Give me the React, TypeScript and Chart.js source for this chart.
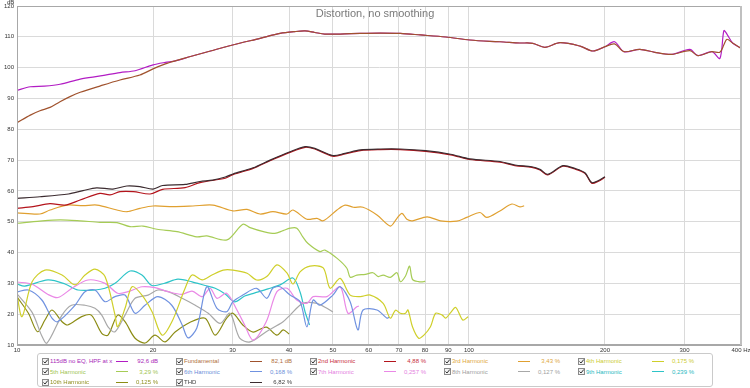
import React, { useEffect, useRef } from "react";
import { Chart, registerables } from "chart.js";

Chart.register(...registerables);

const TITLE = "Distortion, no smoothing";
const Y_UNIT = "dB";
const X_TICKS = [10, 20, 30, 40, 50, 60, 70, 80, 90, 100, 200, 300, 400];
const X_MIN = 10;
const X_MAX = 400;
const Y_MIN = 10;
const Y_MAX = 120;
const Y_STEP = 10;

// 115dB no EQ, HPF at x
const F_MEAS = [10, 10.7, 11.5, 12.45, 13.8, 15.3, 16.9, 18.25, 20, 21.3, 22.4, 24.2, 26.8, 30, 34.5, 38.2, 41.2, 43.4, 45.6, 48, 51.9, 57.5, 63.7, 70.5, 78.2, 88.8, 100.5, 111.3, 117.1, 129.7, 138.5, 147.3, 159, 176.1, 188.1, 200, 210, 220.3, 238.9, 257.9, 281.3, 308.3, 321.1, 344.9, 359.2, 366.6, 372.3, 383.8, 400];
const V_MEAS = [92.6, 93.8, 94.0, 94.6, 96.3, 97.3, 98.4, 99.0, 100.9, 101.7, 102.2, 103.6, 105.4, 107.35, 109.5, 111.1, 111.7, 111.9, 111.4, 110.9, 110.9, 111.1, 111.2, 111.1, 110.6, 109.95, 108.97, 108.5, 108.4, 108.0, 107.9, 106.6, 108.1, 107.0, 105.4, 106.8, 108.4, 105.2, 105.95, 104.97, 104.3, 105.9, 103.9, 105.2, 103.0, 112.0, 110.9, 107.9, 106.3];

// Fundamental
const F_FUND = [10, 10.7, 11.24, 11.83, 12.45, 13.1, 13.8, 15.3, 16.9, 18.7, 20, 21.3, 22.4, 24.2, 26.8, 30, 34.5, 38.2, 41.2, 43.4, 45.6, 48, 51.9, 57.5, 63.7, 70.5, 78.2, 88.8, 100.5, 111.3, 117.1, 129.7, 138.5, 147.3, 159, 176.1, 188.1, 200, 210, 220.3, 238.9, 257.9, 281.3, 308.3, 321.1, 344.9, 359.2, 366.6, 372.3, 383.8, 400];
const V_FUND = [82.1, 84.6, 86.0, 87.1, 88.95, 90.6, 92.0, 94.1, 96.0, 97.6, 99.6, 101.2, 102.2, 103.6, 105.4, 107.35, 109.5, 111.1, 111.7, 111.9, 111.4, 110.9, 110.9, 111.1, 111.2, 111.1, 110.6, 109.95, 108.97, 108.5, 108.4, 108.0, 107.9, 106.6, 108.1, 107.0, 105.4, 106.8, 107.7, 105.2, 105.95, 104.97, 104.3, 105.5, 103.9, 105.2, 104.98, 107.4, 109.2, 107.9, 106.3];

// THD
const F_THD = [10, 11.24, 13.0, 14.0, 15.0, 16.3, 17.5, 18.7, 20, 21.0, 23.55, 25.4, 27.1, 28.9, 30.05, 33.3, 36.3, 40.2, 43.4, 45.6, 50, 53.2, 57.5, 63.7, 70.5, 80.2, 91.1, 100.5, 117.1, 126.4, 137.8, 143.6, 149.5, 161.4, 171.6, 180.6, 187, 193.1, 200];
const V_THD = [57.6, 58.1, 59.0, 60.1, 61.0, 60.6, 61.6, 61.4, 60.6, 61.75, 62.1, 63.05, 63.5, 64.5, 65.5, 67.5, 70.0, 72.7, 74.35, 73.8, 71.45, 72.2, 73.3, 73.6, 73.6, 73.05, 71.9, 70.4, 69.55, 68.4, 67.85, 67.0, 65.4, 68.2, 67.3, 65.9, 62.7, 63.3, 64.6];

// 2nd harmonic
const F_H2 = [10, 10.85, 11.83, 12.77, 13.79, 15.26, 16.06, 16.9, 18.1, 19.7, 21.0, 23.55, 25.4, 28.9, 30.05, 33.3, 36.3, 40.2, 43.4, 45.6, 50, 53.2, 57.5, 63.7, 70.5, 80.2, 91.1, 100.5, 117.1, 126.4, 137.8, 143.6, 149.5, 161.4, 171.6, 180.6, 187, 193.1, 200];
const V_H2 = [54.35, 54.9, 55.9, 55.4, 57.05, 59.2, 58.7, 59.75, 59.75, 59.0, 60.5, 61.05, 62.7, 64.1, 65.3, 67.3, 69.8, 72.5, 74.15, 73.6, 71.25, 72.0, 73.1, 73.4, 73.4, 72.85, 71.7, 70.2, 69.35, 68.2, 67.65, 66.8, 65.2, 68.0, 67.1, 65.7, 62.5, 63.1, 64.4];

// 3rd harmonic
const F_H3 = [10, 11.24, 11.83, 12.9, 14.0, 15.03, 16.64, 17.51, 18.71, 20, 22.13, 24.5, 27.14, 30.05, 32.28, 34.5, 36.84, 39.56, 40.8, 43.81, 46.1, 47.6, 51.05, 53.2, 55.5, 58.3, 62.6, 67.0, 69.3, 71.1, 72.9, 75.0, 80.8, 86.5, 94.0, 98.9, 105.8, 109.5, 117.1, 124.5, 129.7, 132.5];
const V_H3 = [52.9, 52.5, 53.8, 55.4, 55.2, 55.4, 53.8, 53.25, 54.35, 55.1, 54.9, 55.1, 55.4, 53.5, 54.0, 52.5, 53.25, 52.5, 53.8, 50.8, 51.1, 50.3, 53.8, 55.4, 54.7, 54.7, 52.2, 48.6, 51.1, 52.7, 50.8, 50.3, 51.6, 50.3, 50.2, 51.4, 53.0, 51.4, 53.5, 55.75, 54.8, 55.2];

// 4th harmonic
const F_H4 = [10, 10.26, 10.8, 11.53, 12.58, 13.44, 14.14, 14.88, 15.66, 16.48, 16.7, 17.34, 17.97, 18.9, 19.9, 20.94, 22.03, 23.55, 24.4, 25.7, 27.0, 28.6, 30.05, 32.3, 33.9, 35.7, 37.6, 39.6, 40.8, 42.3, 44.5, 47.6, 49.3, 51.9, 54.6, 57.5, 60.5, 64.6, 67.0, 68.8, 70.5, 72.4, 73.3, 75.0, 77.4, 79.5, 82.2, 84.4, 87.3, 88.8, 91.1, 93.5, 96.9, 99.6];
const V_H4 = [26.2, 19.2, 30.5, 34.3, 32.7, 29.5, 32.7, 34.65, 32.2, 19.7, 15.9, 21.9, 28.9, 26.2, 20.8, 13.2, 17.6, 28.4, 32.7, 31.1, 32.7, 34.3, 34.3, 33.3, 31.1, 32.2, 36.0, 33.3, 29.8, 33.7, 35.6, 35.0, 28.4, 31.6, 26.2, 25.7, 26.2, 23.5, 18.7, 21.3, 20.3, 20.3, 21.4, 15.9, 12.2, 13.2, 15.9, 20.3, 19.7, 18.7, 20.5, 22.2, 18.1, 19.2];

// 5th harmonic
const F_H5 = [10, 11.24, 12.45, 13.79, 15.26, 16.65, 17.79, 19.0, 20.4, 22.6, 25.0, 26.3, 29.15, 31.6, 32.8, 35.1, 37.2, 38.8, 40.2, 41.6, 42.9, 44.0, 46.8, 48.0, 51.1, 53.7, 54.6, 56.5, 59.0, 61.3, 63.0, 64.6, 67.0, 69.3, 70.5, 72.4, 73.9, 75.0, 77.4, 79.5, 80];
const V_H5 = [49.5, 50.2, 50.6, 50.3, 49.8, 49.7, 48.4, 48.6, 47.55, 46.8, 45.1, 45.4, 44.1, 49.2, 48.1, 46.8, 46.2, 47.1, 47.9, 47.9, 45.1, 43.0, 40.3, 40.8, 38.1, 34.9, 32.0, 32.7, 32.9, 33.45, 32.2, 32.7, 31.95, 33.45, 30.55, 32.4, 35.6, 31.3, 30.55, 30.55, 30.8];

// 6th harmonic
const F_H6 = [10, 10.6, 11.35, 11.95, 12.3, 13.44, 14.14, 14.88, 15.66, 16.48, 17.34, 18.25, 19.2, 20.5, 22.0, 23.2, 23.9, 25.0, 26.3, 27.7, 29.1, 30.05, 31.6, 33.9, 35.7, 36.8, 38.2, 40.2, 42.3, 43.8, 45.2, 46.8, 50, 51.9, 54.6, 56.8, 58.3, 62.6, 65.9, 66.6];
const V_H6 = [27.2, 27.85, 24.6, 18.7, 17.55, 22.9, 27.3, 27.85, 24.05, 25.7, 26.2, 20.3, 22.9, 25.7, 22.9, 16.5, 12.3, 15.5, 28.9, 21.9, 20.8, 24.05, 26.2, 28.4, 25.15, 28.4, 28.9, 26.2, 24.05, 15.9, 24.6, 22.9, 26.2, 28.9, 24.05, 14.9, 21.35, 21.35, 18.7, 19.1];

// 7th harmonic
const F_H7 = [10, 10.8, 11.71, 12.32, 13.23, 14.36, 15.66, 16.7, 17.6, 18.9, 20.2, 21.6, 23.17, 24.4, 25.7, 26.76, 27.7, 29.1, 30.67, 31.9, 33.3, 35.6, 37.6, 39.6, 41.6, 43.8, 45.2, 48.5, 51.9, 54.0, 56.5, 57.1];
const V_H7 = [30.45, 29.7, 26.4, 25.4, 28.4, 31.1, 30.0, 26.8, 27.3, 28.9, 28.6, 27.3, 26.45, 27.5, 25.7, 28.4, 25.15, 26.8, 21.35, 16.5, 11.6, 17.55, 27.3, 28.4, 24.6, 23.5, 25.7, 25.7, 28.9, 20.3, 22.4, 22.65];

// 8th harmonic
const F_H8 = [10, 10.8, 11.35, 11.65, 12.58, 13.2, 14.14, 14.88, 15.4, 15.9, 16.48, 17.34, 18.25, 19.5, 20.5, 21.6, 23.2, 24.8, 26.5, 28.16, 29.6, 31.1, 32.8, 35.6, 38.8, 40.2, 42.9, 46.1, 48.5, 50];
const V_H8 = [26.6, 20.6, 12.9, 10.6, 19.7, 22.9, 22.9, 21.9, 19.7, 15.9, 14.3, 19.7, 25.15, 26.2, 27.85, 27.3, 25.15, 22.9, 20.3, 17.0, 20.3, 12.2, 11.0, 14.3, 17.55, 19.7, 23.5, 23.5, 21.9, 20.7];

// 9th harmonic
const F_H9 = [10, 10.4, 11.71, 12.77, 13.64, 14.88, 15.66, 16.48, 17.79, 18.9, 19.9, 21.27, 22.7, 24.4, 26.08, 27.45, 28.89, 30.3, 31.9, 33.6, 35.92, 38.2, 40.8, 42.3, 43.4, 44.4];
const V_H9 = [29.8, 29.1, 31.1, 29.8, 27.85, 27.85, 28.4, 30.0, 34.0, 32.7, 29.3, 30.1, 31.4, 30.5, 29.3, 28.4, 26.55, 24.0, 25.9, 26.9, 28.2, 29.5, 31.75, 27.2, 20.7, 16.5];

// 10th harmonic
const F_H10 = [10, 10.6, 11.1, 11.53, 11.95, 12.58, 12.95, 13.9, 14.6, 15.4, 15.9, 16.7, 17.34, 18.25, 19.2, 20.2, 21.27, 22.38, 24.16, 26.08, 27.45, 29.1, 30.05, 31.6, 33.3, 35.6, 37.6, 38.8, 40];
const V_H10 = [25.6, 20.3, 14.3, 18.1, 21.35, 17.55, 16.5, 19.2, 19.7, 13.8, 13.2, 19.7, 17.55, 12.2, 10.65, 13.2, 11.0, 14.2, 17.4, 18.7, 13.2, 18.7, 20.3, 16.5, 14.2, 15.8, 13.2, 14.9, 13.6];

// Legend texts (row-major, 5 columns)
const LEGEND_NAMES = ["115dB no EQ, HPF at x", "Fundamental", "2nd Harmonic", "3rd Harmonic", "4th Harmonic", "5th Harmonic", "6th Harmonic", "7th Harmonic", "8th Harmonic", "9th Harmonic", "10th Harmonic", "THD"];
const LEGEND_VALUES = ["92,6 dB", "82,1 dB", "4,88 %", "3,43 %", "0,175 %", "3,29 %", "0,168 %", "0,257 %", "0,127 %", "0,239 %", "0,125 %", "6,82 %"];

const SERIES = [
  { f: F_MEAS, v: V_MEAS, color: "#b21cc4", text: "#a828b8", order: 2 },
  { f: F_FUND, v: V_FUND, color: "#a0522d", text: "#b0703c", order: 1 },
  { f: F_H2, v: V_H2, color: "#b4141c", text: "#c83040", order: 3 },
  { f: F_H3, v: V_H3, color: "#e0a030", text: "#e0a840", order: 4 },
  { f: F_H4, v: V_H4, color: "#cfcf2a", text: "#cccc30", order: 5 },
  { f: F_H5, v: V_H5, color: "#a6cc56", text: "#a0c450", order: 6 },
  { f: F_H6, v: V_H6, color: "#7092e0", text: "#6a8ed8", order: 7 },
  { f: F_H7, v: V_H7, color: "#ea88e6", text: "#e480e0", order: 8 },
  { f: F_H8, v: V_H8, color: "#a8a8a8", text: "#a0a0a0", order: 9 },
  { f: F_H9, v: V_H9, color: "#2ec4c8", text: "#28b8c0", order: 10 },
  { f: F_H10, v: V_H10, color: "#8c8c14", text: "#909020", order: 11 },
  { f: F_THD, v: V_THD, color: "#3c2c30", text: "#404040", order: 0 },
];

const FONT = "'Liberation Sans', Arial, sans-serif";

const framePlugin = {
  id: "frame",
  afterDraw(chart: any) {
    const { ctx, chartArea } = chart;
    const { left, top, right, bottom } = chartArea;
    ctx.save();
    ctx.strokeStyle = "#a8a8a8";
    ctx.lineWidth = 1;
    ctx.strokeRect(left + 0.5, top + 0.5, right - left - 1, bottom - top - 1);
    ctx.strokeStyle = "#c0c0c0";
    ctx.lineWidth = 2;
    ctx.beginPath();
    ctx.moveTo(right, top);
    ctx.lineTo(right, bottom);
    ctx.stroke();
    ctx.restore();
  },
};

function Check() {
  return (
    <svg width="7" height="7" viewBox="0 0 7 7" style={{ position: "absolute", left: 0, top: 0 }}>
      <rect x="0.5" y="0.5" width="6" height="6" fill="#f2f2f2" stroke="#8a8a8a" strokeWidth="1" />
      <path d="M1.5 3.5 L3 5 L5.8 1.5" fill="none" stroke="#333" strokeWidth="1" />
    </svg>
  );
}

function Legend() {
  return (
    <div
      style={{
        position: "absolute",
        left: 37,
        top: 353,
        width: 676,
        height: 34,
        border: "1px solid #cacaca",
        borderRadius: 3,
        boxSizing: "border-box",
        background: "#fff",
        fontFamily: FONT,
        fontSize: 6,
      }}
    >
      {LEGEND_NAMES.map((name, i) => {
        const col = i % 5;
        const row = Math.floor(i / 5);
        const cy = 7 + row * 10.5;
        const base = 1 + 134 * col;
        const s = SERIES[i];
        return (
          <React.Fragment key={name}>
            <div style={{ position: "absolute", left: base + 3, top: cy - 3.5, width: 7, height: 7 }}>
              <Check />
            </div>
            <div style={{ position: "absolute", left: base + 11, top: cy - 5, height: 10, lineHeight: "10px", color: s.text, whiteSpace: "nowrap" }}>
              {name}
            </div>
            <div style={{ position: "absolute", left: base + 77, top: cy - 0.5, width: 12, height: 1.3, background: s.color }} />
            <div style={{ position: "absolute", left: base + 88, top: cy - 5, width: 31, height: 10, lineHeight: "10px", textAlign: "right", color: s.text, whiteSpace: "nowrap" }}>
              {LEGEND_VALUES[i]}
            </div>
          </React.Fragment>
        );
      })}
    </div>
  );
}

export default function App() {
  const canvasRef = useRef<HTMLCanvasElement | null>(null);

  useEffect(() => {
    const canvas = canvasRef.current;
    if (!canvas) return;
    const datasets = SERIES.map((s, i) => ({
      label: LEGEND_NAMES[i],
      data: s.f.map((x, j) => ({ x, y: s.v[j] })),
      borderColor: s.color,
      backgroundColor: s.color,
      borderWidth: 1.2,
      pointRadius: 0,
      tension: 0.3,
      fill: false,
      order: s.order,
    }));
    const chart = new Chart(canvas, {
      type: "line",
      data: { datasets },
      options: {
        responsive: false,
        animation: false,
        devicePixelRatio: 1,
        layout: { padding: { left: 0, right: 9, top: 6, bottom: 0 } },
        plugins: {
          legend: { display: false },
          title: { display: false },
          tooltip: { enabled: false },
        },
        scales: {
          x: {
            type: "logarithmic",
            min: X_MIN,
            max: X_MAX,
            afterBuildTicks: (scale: any) => {
              scale.ticks = X_TICKS.map((v) => ({ value: v }));
            },
            afterFit: (scale: any) => {
              scale.height = 43;
              scale.paddingLeft = 0;
              scale.paddingRight = 0;
            },
            grid: { color: "#dadada", drawTicks: false, lineWidth: 1 },
            border: { color: "#a8a8a8" },
            ticks: {
              autoSkip: false,
              maxRotation: 0,
              minRotation: 0,
              padding: 2,
              color: "#333",
              font: { family: FONT, size: 6 },
              callback: (v: any) => (Number(v) === X_MAX ? `${v} Hz` : String(v)),
            },
          },
          y: {
            type: "linear",
            min: Y_MIN,
            max: Y_MAX,
            afterFit: (scale: any) => {
              scale.width = 17;
              scale.paddingTop = 0;
              scale.paddingBottom = 0;
            },
            grid: { color: "#dadada", drawTicks: false, lineWidth: 1 },
            border: { color: "#a8a8a8" },
            ticks: {
              stepSize: Y_STEP,
              padding: 3,
              color: "#333",
              font: { family: FONT, size: 6 },
            },
          },
        },
      } as any,
      plugins: [framePlugin],
    });
    return () => chart.destroy();
  }, []);

  return (
    <div style={{ position: "absolute", left: 0, top: 0, width: 750, height: 388, background: "#fff", overflow: "hidden" }}>
      <canvas ref={canvasRef} width={750} height={388} style={{ display: "block", width: 750, height: 388 }} />
      <div style={{ position: "absolute", left: 0, top: 6, width: 750, textAlign: "center", fontFamily: FONT, fontSize: 11, color: "#7a7a7a", lineHeight: "14px" }}>
        {TITLE}
      </div>
      <div style={{ position: "absolute", left: 7, top: -2, fontFamily: FONT, fontSize: 6, color: "#333", lineHeight: "8px" }}>
        {Y_UNIT}
      </div>
      <Legend />
    </div>
  );
}
